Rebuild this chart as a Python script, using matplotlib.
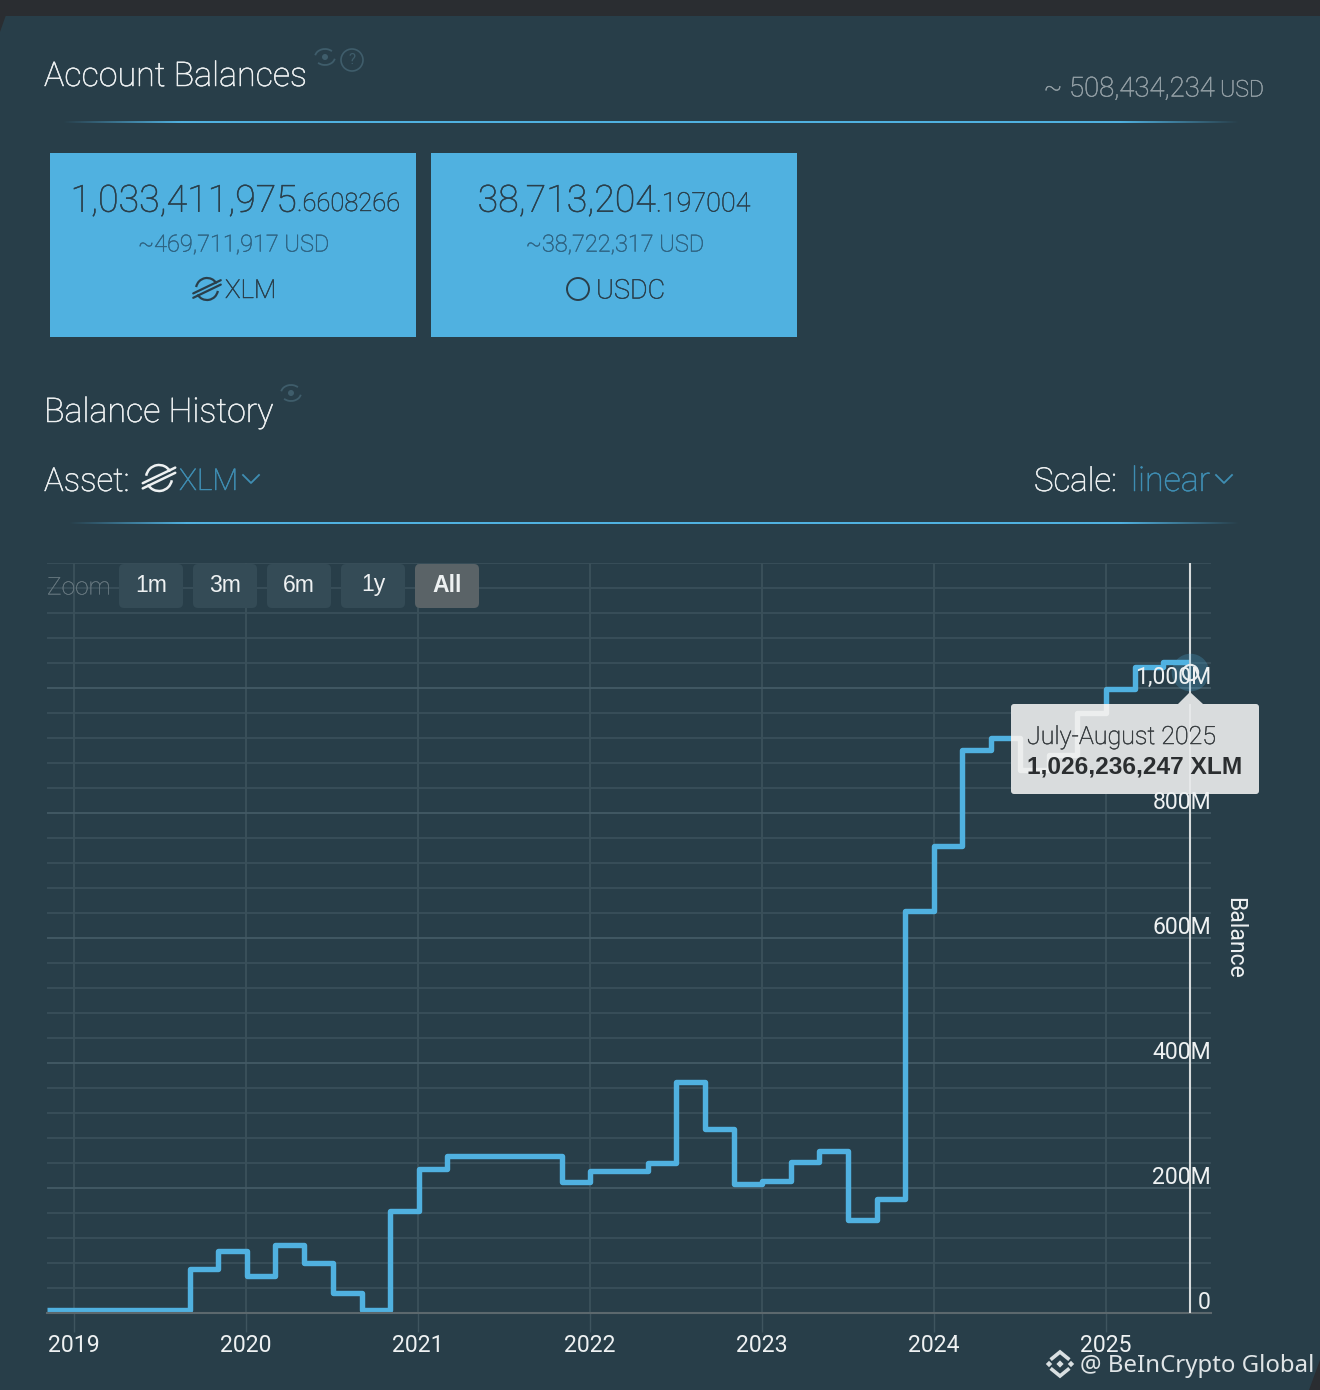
import numpy as np
import matplotlib
matplotlib.use('Agg')
import matplotlib.pyplot as plt
import matplotlib.patheffects as pe
from matplotlib.patches import Rectangle, FancyBboxPatch, Circle, Arc, Polygon
from matplotlib.transforms import ScaledTranslation

# balance history (step start in years, value in millions)
step_years = [2018.843, 2019.674, 2019.837, 2020.006, 2020.169, 2020.337, 2020.506, 2020.674,
              2020.837, 2021.006, 2021.169, 2021.837, 2022.0, 2022.337, 2022.5, 2022.669,
              2022.837, 2023.0, 2023.169, 2023.331, 2023.5, 2023.669, 2023.831, 2024.0,
              2024.163, 2024.331, 2024.5, 2024.669, 2024.831, 2025.0, 2025.169, 2025.331, 2025.488]
step_values = [5, 70, 99, 59, 109, 80, 32, 5,
               163, 230, 251, 210, 227, 240, 370, 294,
               206, 211, 242, 259, 149, 182, 643, 747,
               901, 920, 869, 893, 960, 998, 1034, 1042, 1042]
hover_value = 1026

year_ticks = [2019, 2020, 2021, 2022, 2023, 2024, 2025]
balance_ticks = [0, 200, 400, 600, 800, 1000]
balance_labels = ['0', '200M', '400M', '600M', '800M', '1,000M']
zoom_buttons = ['1m', '3m', '6m', '1y', 'All']

BG = '#283e49'
BLUE = '#50b1e0'
DARK = '#2a3f4b'
WHITE = '#eef1f2'
FONT = 'Roboto'


def px(size):
    return size * 0.72


fig = plt.figure(figsize=(13.2, 13.9), dpi=100, facecolor=BG)

rect = [47 / 1320, 1 - 1313 / 1390, 1164 / 1320, 750 / 1390]
ax = fig.add_axes(rect, zorder=1)
ax.patch.set_alpha(0)
ax.set_xlim(2018.843, 2025.61)
ax.set_ylim(0, 1200)

# tick labels sit on top of the line, the grid under it, so they need their own axes
ay = fig.add_axes(rect, zorder=1.5)
ay.patch.set_alpha(0)
ay.set_xlim(ax.get_xlim())
ay.set_ylim(ax.get_ylim())

ui = fig.add_axes([0, 0, 1, 1], zorder=2)
ui.patch.set_alpha(0)
ui.axis('off')


def label(x, y, s, color, size, ha='left', bold=0.35, axes=None, **kw):
    # roboto light is thinner than the original, so fatten it a touch
    target = axes or ui
    t = target.text(x, y, s, color=color, fontsize=px(size), family=FONT, weight='light', ha=ha, va='center', **kw)
    t.set_path_effects([pe.withStroke(linewidth=bold, foreground=color)])
    return t


def divider(y, x0, x1):
    rgba = np.zeros((1, 600, 4))
    rgba[..., :3] = matplotlib.colors.to_rgb(BLUE)
    t = np.linspace(0, 1, 600)
    rgba[..., 3] = np.clip(np.minimum(t, 1 - t) / 0.1, 0, 1)
    ui.imshow(rgba, extent=(x0, x1, y + 1, y - 1), aspect='auto', interpolation='bilinear')


def stellar(cx, cy, r, color, lw=1.6):
    ui.add_patch(Arc((cx, cy), 2 * r, 2 * r, theta1=-170, theta2=-30, color=color, lw=lw))
    ui.add_patch(Arc((cx, cy), 2 * r, 2 * r, theta1=10, theta2=150, color=color, lw=lw))
    for dy in (-0.2, 0.2):
        ui.plot([cx - 1.25 * r, cx + 1.25 * r], [cy + dy * r + 0.6 * r, cy + dy * r - 0.6 * r],
                color=color, lw=lw, solid_capstyle='round')


def eye(cx, cy, color='#3f5d6b'):
    ui.add_patch(Circle((cx, cy), 3, color=color, lw=0))
    ui.add_patch(Arc((cx, cy), 20, 16, theta1=190, theta2=320, color=color, lw=1.3))
    ui.add_patch(Arc((cx, cy), 20, 16, theta1=10, theta2=140, color=color, lw=1.3))


def chevron(cx, cy, color):
    ui.plot([cx - 8, cx, cx + 8], [cy - 4, cy + 4, cy - 4], color=color, lw=1.3)


# page corners
ui.add_patch(Rectangle((0, 0), 1320, 15.5, color='#2a2d31', lw=0))
ui.add_patch(Polygon([(0, 15), (6, 15), (0, 32)], color='#2a2d31', lw=0))
ui.add_patch(Polygon([(1320, 1360), (1320, 1390), (1309, 1390)], color='#2a2d31', lw=0))

# account balances header
label(44, 77, 'Account Balances', WHITE, 34)
eye(325, 57)
ui.add_patch(Circle((352, 60), 11, fill=False, ec='#3f5d6b', lw=1.2))
ui.text(352, 60, '?', color='#3f5d6b', fontsize=px(15), family=FONT, ha='center', va='center')
label(1215, 89, '~ 508,434,234', '#939fa5', 27.5, ha='right')
label(1264, 90, 'USD', '#939fa5', 23, ha='right')
divider(122, 62, 1240)

# asset cards
ui.add_patch(Rectangle((50, 153), 366, 184, color=BLUE, lw=0))
ui.add_patch(Rectangle((431, 153), 366, 184, color=BLUE, lw=0))
label(297, 201, '1,033,411,975', DARK, 37.5, ha='right')
label(297, 204, '.6608266', DARK, 25.5, bold=0.3)
label(234, 245, '~469,711,917 USD', '#2f6483', 23.5, ha='center')
stellar(207, 289, 11, DARK)
label(225, 291, 'XLM', DARK, 26)
label(656, 201, '38,713,204', DARK, 37.5, ha='right')
label(656, 204, '.197004', DARK, 27, bold=0.3)
label(615, 245, '~38,722,317 USD', '#2f6483', 23.5, ha='center')
ui.add_patch(Circle((578, 289), 11, fill=False, ec=DARK, lw=1.4))
label(596, 291, 'USDC', DARK, 27)

# balance history header
label(44, 413, 'Balance History', WHITE, 34)
eye(291, 393)
label(44, 482, 'Asset:', WHITE, 33)
stellar(159, 478, 13, WHITE, lw=1.8)
label(179, 482, 'XLM', '#3f8eb3', 30)
chevron(251, 479, '#3f8eb3')
label(1034, 482, 'Scale:', WHITE, 33)
label(1131, 482, 'linear', '#3f8eb3', 34)
chevron(1224, 479, '#3f8eb3')
divider(523, 68, 1240)

# chart grid
ax.set_yticks(np.arange(0, 1201, 40), minor=True)
ax.set_yticks(balance_ticks)
ax.set_xticks(year_ticks)
ax.grid(True, which='major', axis='y', color='#435a65', lw=1.3)
ax.grid(True, which='minor', axis='y', color='#394f5a', lw=1.3)
ax.xaxis.grid(True, color='#3f555f', lw=1.1)
ax.set_axisbelow(True)
ax.tick_params(axis='both', which='both', length=0, labelleft=False, labelbottom=False)
ax.tick_params(axis='x', length=14, width=1.0, color='#3f555f')
for name in ('top', 'left', 'right'):
    ax.spines[name].set_visible(False)
ax.spines['bottom'].set_color('#5c686d')
ax.spines['bottom'].set_linewidth(1.5)

# chart labels
for name in ay.spines:
    ay.spines[name].set_visible(False)
ay.set_yticks(balance_ticks)
ay.set_yticklabels(balance_labels)
ay.set_xticks(year_ticks)
ay.set_xticklabels(year_ticks)
ay.yaxis.tick_right()
ay.tick_params(axis='y', length=0, pad=0, labelsize=px(23), labelcolor=WHITE)
ay.tick_params(axis='x', length=14, width=0, pad=1, labelsize=px(23), labelcolor=WHITE)
for lab in ay.get_yticklabels():
    lab.set_family(FONT)
    lab.set_horizontalalignment('right')
    lab.set_transform(lab.get_transform() + ScaledTranslation(0, 13 / 100, fig.dpi_scale_trans))
for lab in ay.get_xticklabels():
    lab.set_family(FONT)
ay.text(1.0205, 0.5, 'Balance', transform=ay.transAxes, rotation=-90, color=WHITE, fontsize=px(23),
        family=FONT, ha='center', va='center', clip_on=False)

ax.step(step_years, step_values, where='post', color=BLUE, lw=3.9, solid_joinstyle='round',
        solid_capstyle='butt', clip_on=False, zorder=2)
ax.axvline(step_years[-1], color='#d7dbdc', lw=1.5, zorder=3)
ax.plot([step_years[-1]], [hover_value], 'o', ms=27, color=BLUE, alpha=0.25, mew=0, zorder=3)
ax.plot([step_years[-1]], [hover_value], 'o', ms=11, mfc='none', mec='#e8ecee', mew=1.5, zorder=4)

# tooltip, lives on the chart axes so the line can show through it
tip_arrow = Polygon([(1178, 704), (1190, 692), (1203, 704)], color='#d9dcdd', lw=0,
                    transform=ui.transData, zorder=5, clip_on=False)
ax.add_patch(tip_arrow)
tip = FancyBboxPatch((1013, 706), 244, 86, boxstyle='round,pad=2,rounding_size=3', fc='#d9dcdd', ec='none',
                     transform=ui.transData, zorder=5, clip_on=False)
ax.add_patch(tip)
ghost = ax.step(step_years, step_values, where='post', color='#eceeee', lw=3.9, solid_joinstyle='round', zorder=6)[0]
ghost.set_clip_path(tip)
cross = ax.axvline(step_years[-1], color='#e6e8e9', lw=1.5, zorder=6)
cross.set_clip_path(tip)
label(1027, 737, 'July-August 2025', '#383d40', 25, axes=ax, transform=ui.transData, zorder=7)
ax.text(1027, 767, '1,026,236,247 XLM', color='#2b2e30', fontsize=px(24.5), family='Liberation Sans', weight='bold',
        va='center', transform=ui.transData, zorder=7)

# zoom buttons
label(47, 588, 'Zoom', '#66777f', 24.5, bold=0.1)
for i, name in enumerate(zoom_buttons):
    x0 = 119 + i * 74
    active = name == 'All'
    ui.add_patch(FancyBboxPatch((x0 + 3, 567), 58, 38, boxstyle='round,pad=3,rounding_size=5', lw=0,
                                fc='#5a6367' if active else '#344b56'))
    ui.text(x0 + 32, 585, name, color=WHITE, fontsize=px(23), family='Liberation Sans',
            weight='bold' if active else 'normal', ha='center', va='center')

# watermark
logo = '#d9dfe1'
for dx, dy, s in [(-11, 0, 3.2), (11, 0, 3.2), (0, 0, 3.6)]:
    cx, cy = 1060 + dx, 1364 + dy
    ui.add_patch(Polygon([(cx - s, cy), (cx, cy - s), (cx + s, cy), (cx, cy + s)], color=logo, lw=0))
for sign in (-1, 1):
    ui.plot([1052, 1060, 1068], [1364 + sign * 5.5, 1364 + sign * 12, 1364 + sign * 5.5], color=logo, lw=2.6,
            solid_joinstyle='miter')
ui.text(1080, 1366, '@ BeInCrypto Global', color='#dfe4e6', fontsize=px(24), family='Noto Sans', va='center')

ui.set_xlim(0, 1320)
ui.set_ylim(1390, 0)

fig.savefig('out.png', dpi=100, facecolor=BG)
